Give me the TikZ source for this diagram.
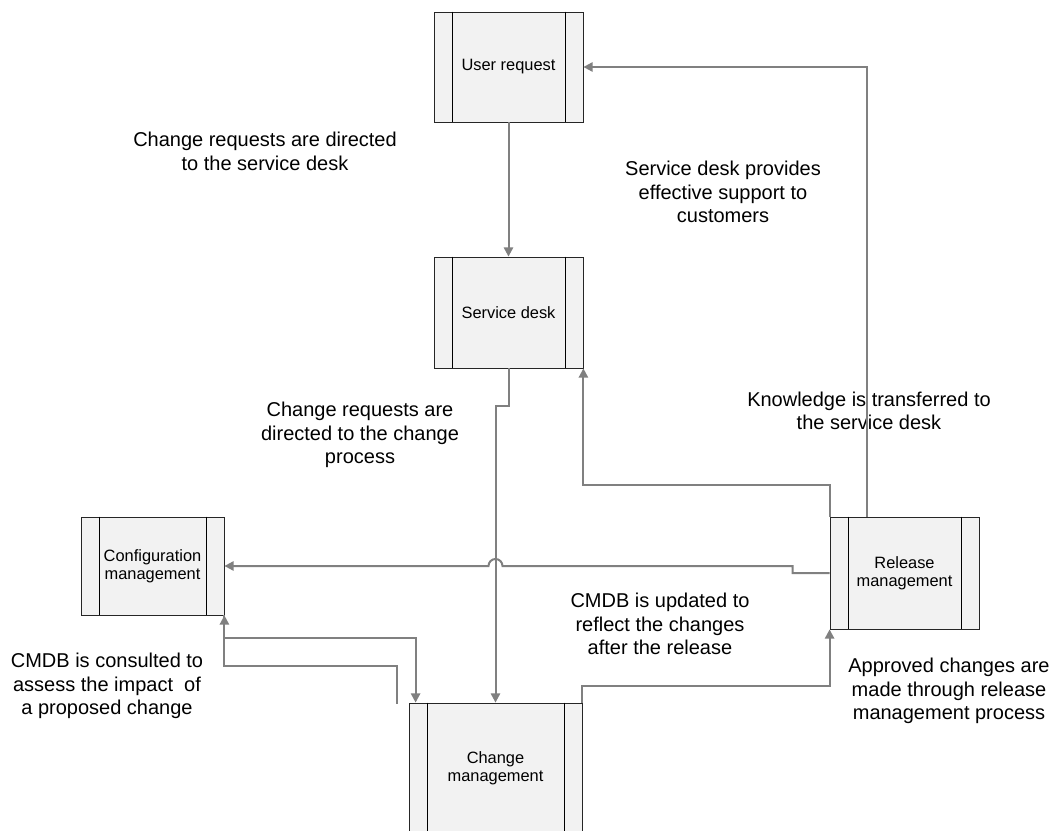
\documentclass[tikz,border=0pt]{standalone}
\usepackage{fontspec}
\setmainfont{Liberation Sans}
\usetikzlibrary{arrows.meta,calc}

\tikzset{
  box/.style 2 args={draw=black!85, fill=black!5, line width=0.6pt, inner sep=0pt,
    minimum width=#1*0.75pt, minimum height=#2*0.75pt, align=center,
    font=\fontsize{12.3}{13.8}\selectfont},
  note/.style={inner sep=0pt, align=center, font=\fontsize{15}{17.5}\selectfont},
  flow/.style={draw=black!50, line width=1.5pt, -{Triangle[length=7pt,width=7pt]}},
  wire/.style={draw=black!50, line width=1.5pt}
}

\begin{document}
\begin{tikzpicture}[x=0.75pt,y=-0.75pt]
\clip (0,0) rectangle (1058,831);

\node[box={149}{110}] (ur) at (508.5,67) {User request};
\node[box={149}{111}] (sd) at (508.5,312.5) {Service desk};
\node[box={143}{98}] (cfg) at (152.5,566) {Configuration\\management};
\node[box={149}{112}] (rel) at (904.5,573) {Release\\management};
\node[box={173}{131}] (chg) at (495.5,768.5) {Change\\management};

\foreach \n in {ur,sd,cfg,rel,chg}{
  \draw[black, line width=0.6pt] ($(\n.north west)+(18.5,0)$) -- ($(\n.south west)+(18.5,0)$);
  \draw[black, line width=0.6pt] ($(\n.north east)+(-18.5,0)$) -- ($(\n.south east)+(-18.5,0)$);
}

\node[note] (t1) at (265,151.5) {Change requests are directed\\to the service desk};
\node[note] (t2) at (723,192) {Service desk provides\\effective support to\\customers};
\node[note] (t3) at (360,435) {Change requests are\\directed to the change\\process};
\node[note] (t4) at (869,411) {Knowledge is transferred to\\the service desk};
\node[note] (t5) at (660,624) {CMDB is updated to\\reflect the changes\\after the release};
\node[note] (t6) at (107,686) {CMDB is consulted to\\assess the impact~ of\\a proposed change};
\node[note] (t7) at (949,691) {Approved changes are\\made through release\\management process};

\coordinate (hop) at (chg.north |- cfg.east);
\coordinate (loose) at ($(chg.north west)+(-12,1)$);

\draw[flow] (ur.south) -- (sd.north);
\draw[flow] ($(rel.north west)+(37,0)$) |- (ur.east);
\draw[flow] (sd.south) -- ++(0,38) -| (chg.north);
\draw[flow] (rel.west) -- ++(-37,0) |- ($(hop)+(7,0)$)
  arc[start angle=0, end angle=-180, radius=7] -- (cfg.east);
\draw[flow] (rel.north west) -- ++(0,-32) -| (sd.south east);
\draw[flow] (chg.north east) -- ++(0,-17) -| (rel.south west);
\draw[flow] (cfg.south east) -- ++(0,23) -| ($(chg.north west)+(7,0)$);
\draw[flow] (loose) -- ++(0,-38) -| (cfg.south east);
\end{tikzpicture}
\end{document}
